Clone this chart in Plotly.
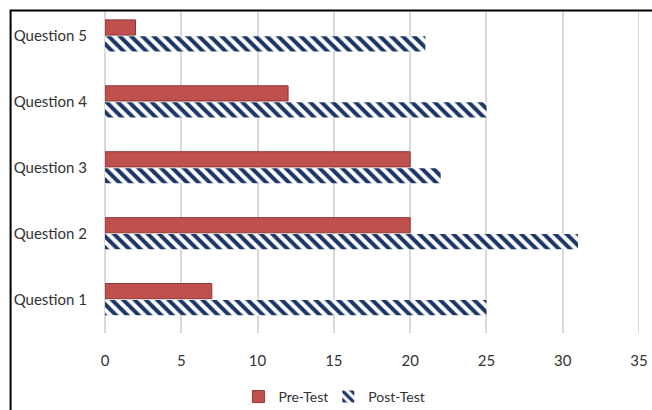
import plotly.graph_objects as go

categories = ["Question 1", "Question 2", "Question 3", "Question 4", "Question 5"]
pre_test = [7, 20, 20, 12, 2]
post_test = [25, 31, 22, 25, 21]
x_ticks = [0, 5, 10, 15, 20, 25, 30, 35]

W, H = 652, 410
L, R, T, B = 104.5, 13, 10, 77
pw = W - L - R
ph = H - T - B

def px_x(x):
    return (x - L) / pw

def px_y(y):
    return (H - B - y) / ph

fig = go.Figure()
fig.add_trace(go.Bar(
    y=categories, x=post_test, orientation="h", name="Post-Test",
    marker=dict(color="white", line=dict(width=0),
                pattern=dict(shape="\\", fgcolor="#1b3566", bgcolor="white",
                             size=8, solidity=0.5, fillmode="replace")),
    legend="legend2",
))
fig.add_trace(go.Bar(
    y=categories, x=pre_test, orientation="h", name="Pre-Test",
    marker=dict(color="#c0504d", line=dict(color="#8c3836", width=1)),
    legend="legend",
))

leg_common = dict(orientation="h", xanchor="left", y=px_y(381), yanchor="top",
                  font=dict(size=14), itemwidth=30, bgcolor="rgba(0,0,0,0)")

fig.update_layout(
    width=W, height=H,
    margin=dict(l=L, r=R, t=T, b=B, pad=0, autoexpand=False),
    paper_bgcolor="white", plot_bgcolor="white",
    barmode="group", bargap=0.5, bargroupgap=0.08,
    font=dict(family="Lato, Open Sans, sans-serif", size=15, color="#333333"),
    xaxis=dict(range=[0, 35], tickvals=x_ticks, showgrid=True, gridcolor="#d9d9d9",
               gridwidth=2, zeroline=True, zerolinecolor="#d9d9d9", zerolinewidth=2,
               showline=False, ticks="outside", ticklen=14, tickcolor="rgba(0,0,0,0)",
               tickfont=dict(size=15), automargin=False),
    yaxis=dict(range=[-0.51, 4.39], showgrid=False, zeroline=False, showline=False,
               ticks="outside", ticklen=14, tickcolor="rgba(0,0,0,0)",
               tickfont=dict(size=15), automargin=False),
    legend=dict(x=px_x(238), **leg_common),
    legend2=dict(x=px_x(328), **leg_common),
    showlegend=True,
)

fig.add_shape(type="line", xref="x", yref="paper", x0=35, x1=35, y0=0, y1=1,
              line=dict(color="#d9d9d9", width=2), layer="below")

fig.add_shape(type="path", xref="paper", yref="paper",
              path=f"M {px_x(10)} {px_y(412)} L {px_x(10)} {px_y(10.5)} L {px_x(655)} {px_y(10.5)}",
              line=dict(color="black", width=2))

fig.write_html("out.html")
